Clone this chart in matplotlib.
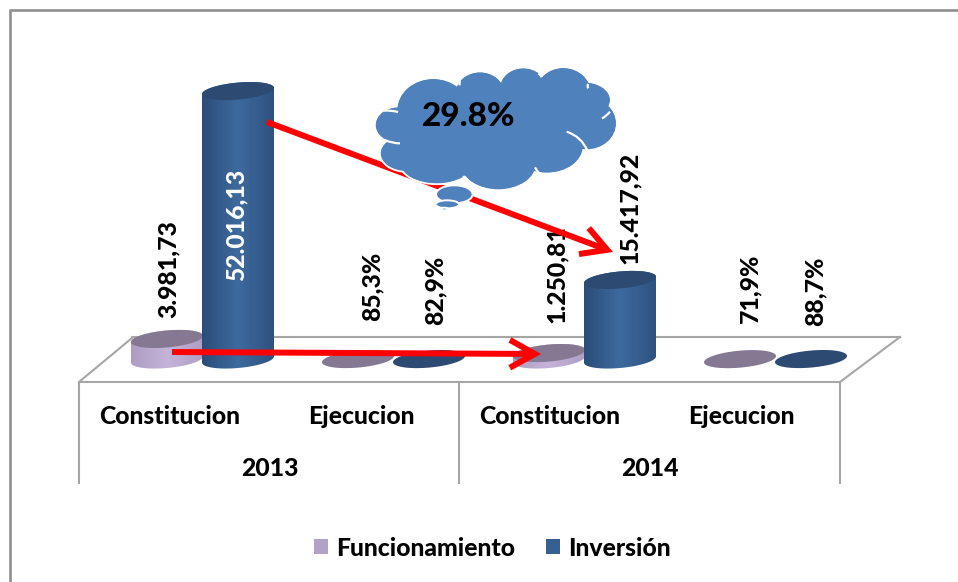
import numpy as np
import matplotlib
matplotlib.use("Agg")
import matplotlib.pyplot as plt
from matplotlib.patches import Ellipse, Patch, PathPatch, Polygon, FancyArrowPatch
from matplotlib.path import Path
from matplotlib.colors import LinearSegmentedColormap

plt.rcParams['font.family'] = ['Lato', 'DejaVu Sans']

# ---- data ----
years = ["2013", "2014"]
categories = ["Constitucion", "Ejecucion", "Constitucion", "Ejecucion"]
series_names = ["Funcionamiento", "Inversión"]
funcionamiento = [3981.73, 85.3, 1250.81, 71.9]
inversion = [52016.13, 82.9, 15417.92, 88.7]
labels_func = ["3.981,73", "85,3%", "1.250,81", "71,9%"]
labels_inv = ["52.016,13", "82,9%", "15.417,92", "88,7%"]
callout = "29.8%"

W, H = 958, 582
fig = plt.figure(figsize=(W / 100, H / 100), dpi=100, facecolor="white")

PX_PER_CAT = 191.0
PX_X0 = 202.5
PX_PER_UNIT = 0.00516
PX_Y0 = 359.5
OFFSET = 35.5 / PX_PER_CAT
HALF_W = 36.0 / PX_PER_CAT
MINOR = 8.5 / PX_PER_UNIT
TILT = 3.1 / (36.0 / PX_PER_CAT) / PX_PER_UNIT

GRAY = "#A6A6A6"
FUNC_BODY = ["#AE9DC2", "#C5B3DA", "#B09FC4"]
FUNC_TOP = "#857892"
INV_BODY = ["#2B4D78", "#3E6A9E", "#2E5280"]
INV_TOP = "#2C4A72"
FS = 17.8
WEIGHT = "black"

# ---- background layer in pixels ----
bg = fig.add_axes([0, 0, 1, 1], zorder=1)
bg.set_xlim(0, W); bg.set_ylim(H, 0); bg.axis("off")
bg.plot([10, 10], [H, 9.5], color="#8F8F8F", lw=1.9, solid_capstyle="butt")
bg.plot([9, W], [10, 10], color="#8F8F8F", lw=1.9, solid_capstyle="butt")
bg.plot([79, 132], [382, 338], color=GRAY, lw=1.5)
bg.plot([132, 900], [337, 337], color=GRAY, lw=1.5)
bg.plot([900, 840], [337, 382], color=GRAY, lw=1.5)
bg.plot([79, 840], [382, 382], color=GRAY, lw=1.5)
for vx in (79, 459, 840):
    bg.plot([vx, vx], [382, 484], color=GRAY, lw=1.5, solid_capstyle="butt")
for cat, px in zip(categories, (170, 361, 550, 741)):
    bg.text(px, 417, cat, ha="center", va="center", fontsize=FS, fontweight=WEIGHT, color="black")
for yr, px in zip(years, (270, 650)):
    bg.text(px, 468, yr, ha="center", va="center", fontsize=FS, fontweight=WEIGHT, color="black")

# ---- data layer ----
ax = fig.add_axes([0, 0, 1, 1], zorder=2)
ax.axis("off")


def cylinder(x, v, body, top, z):
    t = np.linspace(0, 2 * np.pi, 120)
    ex = HALF_W * np.cos(t)
    ey = MINOR * np.sin(t) + TILT * ex
    lo = np.linspace(np.pi, 2 * np.pi, 60)
    hi = np.linspace(0, np.pi, 60)
    xs = np.r_[x + HALF_W * np.cos(lo), x + HALF_W * np.cos(hi)]
    ys = np.r_[MINOR * np.sin(lo) + TILT * HALF_W * np.cos(lo),
               v + MINOR * np.sin(hi) + TILT * HALF_W * np.cos(hi)]
    if v > 500:
        poly = Polygon(np.c_[xs, ys], closed=True, fc="none", ec="none", transform=ax.transData)
        ax.add_patch(poly)
        cm = LinearSegmentedColormap.from_list("c", body)
        grad = np.linspace(0, 1, 128)[None, :]
        im = ax.imshow(grad, cmap=cm, aspect="auto", zorder=z,
                       extent=(x - HALF_W, x + HALF_W, -3 * MINOR, v + 3 * MINOR))
        im.set_clip_path(poly)
    ax.fill(x + ex, v + ey, color=top, lw=0, zorder=z + 0.1)


xi = np.arange(len(categories))
for i in xi:
    cylinder(i - OFFSET, funcionamiento[i], FUNC_BODY, FUNC_TOP, 3 + i)
    cylinder(i + OFFSET, inversion[i], INV_BODY, INV_TOP, 3.5 + i)
ax.set_xlim((0 - PX_X0) / PX_PER_CAT, (W - PX_X0) / PX_PER_CAT)
ax.set_ylim((PX_Y0 - H) / PX_PER_UNIT, PX_Y0 / PX_PER_UNIT)

# data labels: pixel offset from the mark
func_off = [(1, 21), (14, 38.5), (7, 30), (10, 36)]
inv_off = [(-2, 0), (6, 34), (9, 15.5), (4, 33)]
for i in xi:
    dx, dy = func_off[i]
    ax.annotate(labels_func[i], (i - OFFSET, funcionamiento[i]), xytext=(dx * .72, dy * .72),
                textcoords="offset points", rotation=90, ha="center", va="bottom",
                fontsize=FS, fontweight=WEIGHT, color="black", zorder=10)
    dx, dy = inv_off[i]
    if i == 0:
        ax.text(i + OFFSET - 2 / PX_PER_CAT, inversion[i] * 0.5, labels_inv[i], rotation=90,
                ha="center", va="center", fontsize=FS, fontweight=WEIGHT, color="white", zorder=10)
    else:
        ax.annotate(labels_inv[i], (i + OFFSET, inversion[i]), xytext=(dx * .72, dy * .72),
                    textcoords="offset points", rotation=90, ha="center", va="bottom",
                    fontsize=FS, fontweight=WEIGHT, color="black", zorder=10)

handles = [Patch(fc="#B3A2C7", ec="none"), Patch(fc="#376092", ec="none")]
fig.legend(handles, series_names, loc="center", bbox_to_anchor=(492 / W, 1 - 548 / H), ncols=2,
           frameon=False, handlelength=0.57, handleheight=0.57, handletextpad=0.32,
           columnspacing=1.25, prop={"size": FS, "weight": WEIGHT})

# ---- overlay annotation layer ----
ov = fig.add_axes([0, 0, 1, 1], zorder=5)
ov.set_xlim(0, W); ov.set_ylim(H, 0); ov.axis("off"); ov.patch.set_alpha(0)
for p0, p1 in (((267, 122), (613, 252)), ((172, 352), (541, 354))):
    ov.add_patch(FancyArrowPatch(p0, p1, arrowstyle="->,head_length=9,head_width=5", mutation_scale=2.0,
                                 color="#FF0000", lw=4.3, shrinkA=0, shrinkB=0, joinstyle="miter",
                                 capstyle="butt", zorder=3))

BLUE = "#4F81BD"
def Z(zx, zy):
    return 370 + zx / 3, 60 + zy / 3
lobes = [(190, 150, 110, 95), (85, 195, 70, 55), (110, 280, 80, 55), (200, 310, 110, 62),
         (385, 310, 115, 80), (530, 260, 110, 80), (650, 190, 90, 80), (640, 120, 82, 55),
         (580, 100, 85, 78), (460, 85, 72, 62), (330, 100, 75, 65)]
for zx, zy, rx, ry in lobes:
    cx, cy = Z(zx, zy)
    ov.add_patch(Ellipse((cx, cy), 2 * rx / 3, 2 * ry / 3, fc=BLUE, ec="white", lw=1.6, zorder=4))
for zx, zy, rx, ry in lobes:
    cx, cy = Z(zx, zy)
    ov.add_patch(Ellipse((cx, cy), 2 * rx / 3 - 1.5, 2 * ry / 3 - 1.5, fc=BLUE, ec="none", zorder=5))
cx, cy = Z(370, 190)
ov.add_patch(Ellipse((cx, cy), 2 * 265 / 3, 2 * 120 / 3, fc=BLUE, ec="none", zorder=5))
# white creases of the cloud outline
creases = [((590, 215), (635, 230), (652, 272)), ((262, 50), (272, 62), (268, 76)),
           ((385, 42), (395, 50), (392, 60)), ((505, 40), (512, 44), (515, 52)),
           ((655, 72), (650, 78), (655, 85)), ((696, 175), (708, 170), (720, 155)),
           ((42, 152), (60, 150), (84, 156)), ((45, 240), (65, 250), (90, 250)),
           ((280, 348), (288, 362), (305, 372)), ((495, 322), (500, 332), (508, 340))]
for a, b, c in creases:
    verts = [Z(*a), Z(*b), Z(*c)]
    ov.add_patch(PathPatch(Path(verts, [Path.MOVETO, Path.CURVE3, Path.CURVE3]), fc="none",
                           ec="white", lw=1.6, zorder=6))
for zx, zy, rx, ry in ((253, 403, 55, 27), (232, 433, 35, 12), (223, 447, 10, 4)):
    cx, cy = Z(zx, zy)
    ov.add_patch(Ellipse((cx, cy), 2 * rx / 3, 2 * ry / 3, fc=BLUE, ec="white", lw=1.4, zorder=6))
ov.text(469, 116, callout, ha="center", va="center", fontsize=24, fontweight=WEIGHT, color="black", zorder=7)

fig.savefig("out.png", dpi=100, facecolor="white")
